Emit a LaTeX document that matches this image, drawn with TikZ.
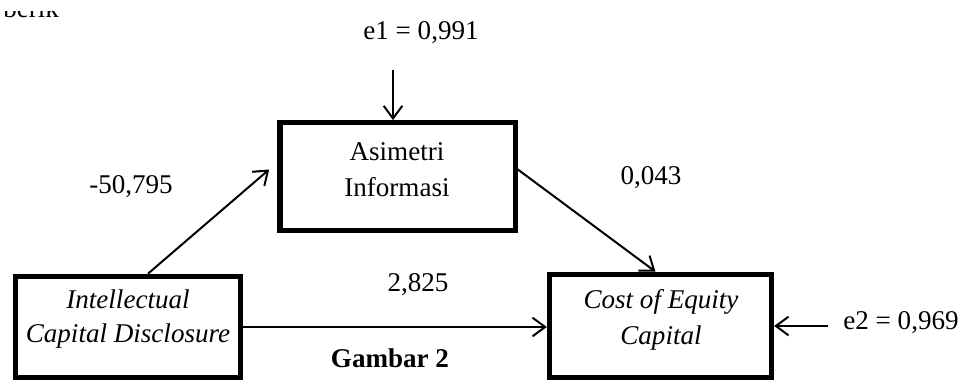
\documentclass[tikz,border=0pt]{standalone}
\usepackage{fontspec}
\setmainfont{Liberation Serif}
\usetikzlibrary{arrows.meta,calc}
\begin{document}
\begin{tikzpicture}[x=0.75pt,y=-0.75pt,
  box/.style={draw, line width=4pt, inner sep=0pt},
  lbl/.style={font=\fontsize{20.3}{27}\selectfont, inner sep=0pt},
  conn/.style={line width=1.5pt, -{Straight Barb[length=9.5pt,width=14pt,line width=1.5pt]}}]
\useasboundingbox (0,0) rectangle (963,381);
% fragment of text cut off at the top
\begin{scope}
  \clip (0,12) rectangle (120,22);
  \node[lbl, anchor=base west] (frag) at (3,18) {berik};
\end{scope}
% boxes
\node[box, minimum width=176.5pt, minimum height=80.5pt] (asim) at (397.5,176.5) {};
\node[box, minimum width=168.5pt, minimum height=76pt] (icd) at (128,327) {};
\node[box, minimum width=166.5pt, minimum height=77.5pt] (coe) at (660.5,326) {};
% box texts
\node[lbl, align=center] (asimt) at (397,170) {Asimetri\\Informasi};
\node[lbl, align=center, font=\fontsize{20.3}{26}\selectfont\itshape] (icdt) at (128,319) {Intellectual\\Capital Disclosure};
\node[lbl, align=center, font=\fontsize{20.3}{27}\selectfont\itshape] (coet) at (661,320) {Cost of Equity\\Capital};
% labels
\node[lbl] (e1) at (421,33) {e1 = 0,991};
\node[lbl] (b1) at (131,187) {-50,795};
\node[lbl] (b2) at (651,178) {0,043};
\node[lbl] (b3) at (418,285) {2,825};
\node[lbl] (e2) at (901,323) {e2 = 0,969};
\node[lbl, font=\fontsize{20.3}{27}\selectfont\bfseries] (cap) at (390,358) {Gambar 2};
% connectors
\coordinate (e1s) at (393,70);
\coordinate (e2s) at (828,326);
\draw[conn] (e1s) -- (e1s |- asim.north);
\draw[conn] (e2s) -- (coe.east);
\draw[conn] (icd.east) -- (icd.east -| coe.west);
\draw[conn] ($(icd.north)+(20,0)$) -- ($(asim.west)+(-8,-7)$);
\draw[conn] ($(asim.east)+(0,-7)$) -- ($(coe.north)+(-5,0)$);
\end{tikzpicture}
\end{document}
